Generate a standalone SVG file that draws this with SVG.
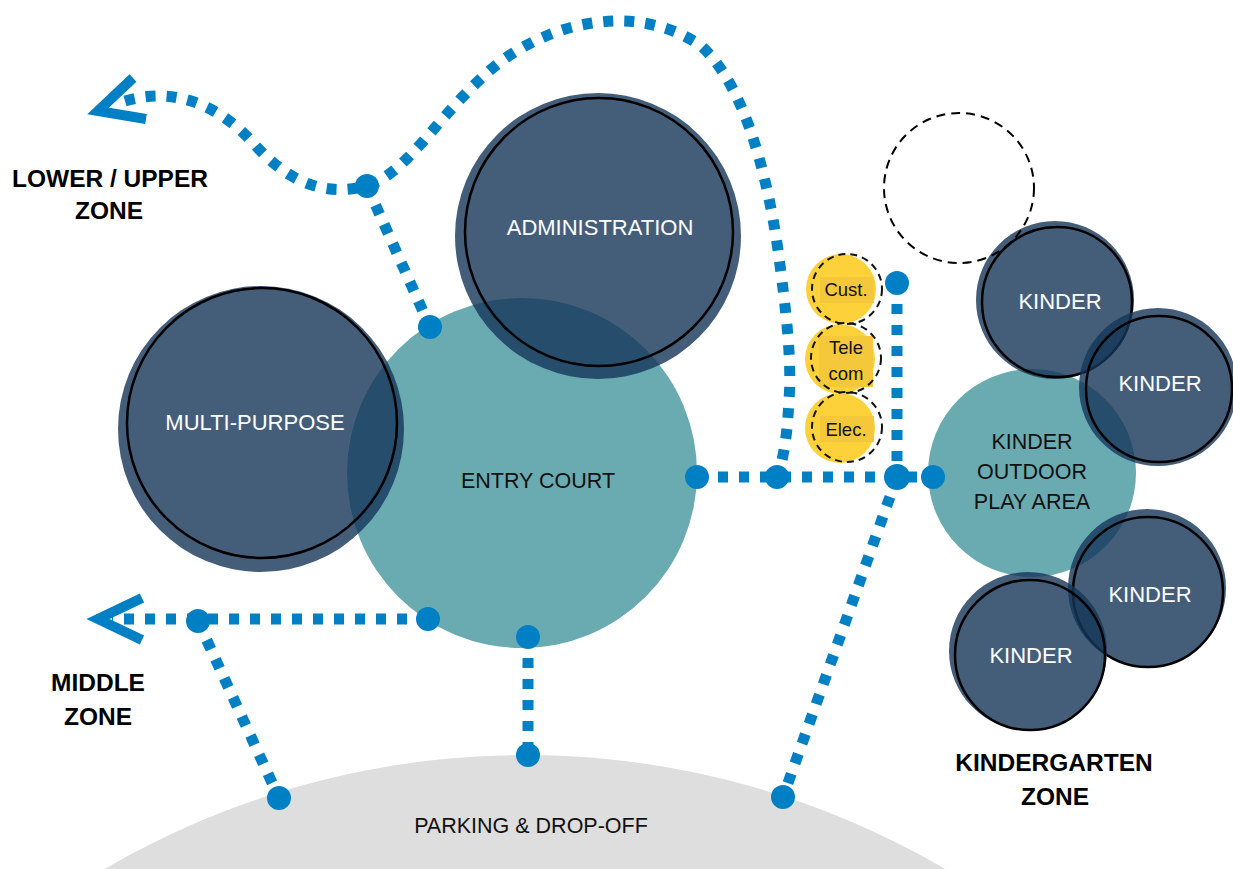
<svg xmlns="http://www.w3.org/2000/svg" width="1233" height="869" viewBox="0 0 1233 869">
<style>
.dark{fill:#153659;fill-opacity:0.8}
.ring{fill:none;stroke:#000;stroke-width:2.5}
.teal{fill:#6AABB2}
.yel{fill:#FDD13A}
.ydash{fill:none;stroke:#111;stroke-width:2;stroke-dasharray:7 5}
.path{fill:none;stroke:#0080C4;stroke-width:11;stroke-dasharray:10 11}
.dot{fill:#0080C4}
.arrow{fill:none;stroke:#0080C4;stroke-width:10;stroke-linejoin:miter}
.wt{font-family:"Liberation Sans",Arial,sans-serif;font-size:22px;fill:#fff;text-anchor:middle}
.bt{font-family:"Liberation Sans",Arial,sans-serif;font-size:21.5px;fill:#111;text-anchor:middle}
.lbl{font-family:"Liberation Sans",Arial,sans-serif;font-size:24.5px;font-weight:bold;fill:#000;text-anchor:middle}
.yt{font-family:"Liberation Sans",Arial,sans-serif;font-size:18.5px;fill:#111;text-anchor:middle}
</style>
<rect width="1233" height="869" fill="#fff"/>
<g id="parking">
<circle cx="525" cy="1586" r="831" fill="#DEDEDE"/>
<text class="bt" x="531" y="833">PARKING &amp; DROP-OFF</text>
</g>
<g id="entry-court">
<circle class="teal" cx="522" cy="473" r="175"/>
<text class="bt" x="538" y="488">ENTRY COURT</text>
</g>
<g id="kinder-outdoor">
<circle class="teal" cx="1032" cy="473" r="104"/>
<text class="bt" x="1032" y="449">KINDER</text>
<text class="bt" x="1032" y="479">OUTDOOR</text>
<text class="bt" x="1032" y="509">PLAY AREA</text>
</g>
<g id="multi-purpose">
<circle class="dark" cx="261" cy="429" r="143"/>
<circle class="ring" cx="262" cy="423" r="135"/>
<text class="wt" x="255" y="430">MULTI-PURPOSE</text>
</g>
<g id="administration">
<circle class="dark" cx="598" cy="236" r="143"/>
<circle class="ring" cx="599" cy="232" r="134"/>
<text class="wt" x="600" y="235">ADMINISTRATION</text>
</g>
<g id="kinder-1">
<circle class="dark" cx="1055" cy="300" r="79"/>
<circle class="ring" cx="1057" cy="302" r="75"/>
<text class="wt" x="1060" y="309">KINDER</text>
</g>
<g id="kinder-2">
<circle class="dark" cx="1158" cy="387" r="79"/>
<circle class="ring" cx="1159" cy="389" r="73"/>
<text class="wt" x="1160" y="391">KINDER</text>
</g>
<g id="kinder-3">
<circle class="dark" cx="1147" cy="588" r="79"/>
<circle class="ring" cx="1148" cy="592" r="75"/>
<text class="wt" x="1150" y="602">KINDER</text>
</g>
<g id="kinder-4">
<circle class="dark" cx="1028" cy="651" r="79"/>
<circle class="ring" cx="1030" cy="655" r="75"/>
<text class="wt" x="1031" y="663">KINDER</text>
</g>
<g id="future">
<circle cx="959" cy="188" r="75" fill="none" stroke="#000" stroke-width="2" stroke-dasharray="9 6"/>
</g>
<g id="cust">
<circle class="yel" cx="841" cy="289" r="35"/>
<rect x="820" y="277" width="54" height="26" fill="#F5C83C"/>
<circle class="ydash" cx="847" cy="289" r="35"/>
<text class="yt" x="846" y="296">Cust.</text>
</g>
<g id="telecom">
<circle class="yel" cx="840" cy="359" r="35"/>
<rect x="819" y="336" width="54" height="51" fill="#F5C83C"/>
<circle class="ydash" cx="846" cy="358" r="35"/>
<text class="yt" x="846" y="354">Tele</text>
<text class="yt" x="846" y="380">com</text>
</g>
<g id="elec">
<circle class="yel" cx="840" cy="428" r="35"/>
<rect x="820" y="416" width="54" height="26" fill="#F5C83C"/>
<circle class="ydash" cx="847" cy="427" r="35"/>
<text class="yt" x="846" y="436">Elec.</text>
</g>
<g id="connectors">
<path class="path" d="M125,101 C170,88 215,100 255,145 C285,178 320,198 367,186 C410,172 440,110 500,62 C560,18 640,5 700,45 C740,80 765,160 778,250 C786,310 792,360 789,400 C787,440 783,460 777,477"/>
<path class="path" d="M367,186 L430,327"/>
<path class="path" d="M697,477 L933,477"/>
<path class="path" d="M897,283 L897,477"/>
<path class="path" d="M897,477 L783,797"/>
<path class="path" d="M428,619 L112,619"/>
<path class="path" d="M198,621 L279,798"/>
<path class="path" d="M528,637 L528,755"/>
<polyline class="arrow" points="133,78 98,111 146,119"/>
<polyline class="arrow" points="142,598 98,619 142,640"/>
<circle class="dot" cx="367" cy="186" r="12"/>
<circle class="dot" cx="430" cy="327" r="12"/>
<circle class="dot" cx="697" cy="477" r="12"/>
<circle class="dot" cx="777" cy="477" r="12"/>
<circle class="dot" cx="897" cy="477" r="13"/>
<circle class="dot" cx="933" cy="477" r="12"/>
<circle class="dot" cx="897" cy="283" r="12"/>
<circle class="dot" cx="783" cy="797" r="12"/>
<circle class="dot" cx="428" cy="619" r="12"/>
<circle class="dot" cx="198" cy="621" r="12"/>
<circle class="dot" cx="279" cy="798" r="12"/>
<circle class="dot" cx="528" cy="637" r="12"/>
<circle class="dot" cx="528" cy="755" r="12"/>
</g>
<g id="zone-labels">
<text class="lbl" x="110" y="187">LOWER / UPPER</text>
<text class="lbl" x="109" y="219">ZONE</text>
<text class="lbl" x="98" y="691">MIDDLE</text>
<text class="lbl" x="98" y="725">ZONE</text>
<text class="lbl" x="1054" y="771">KINDERGARTEN</text>
<text class="lbl" x="1055" y="805">ZONE</text>
</g>
</svg>
